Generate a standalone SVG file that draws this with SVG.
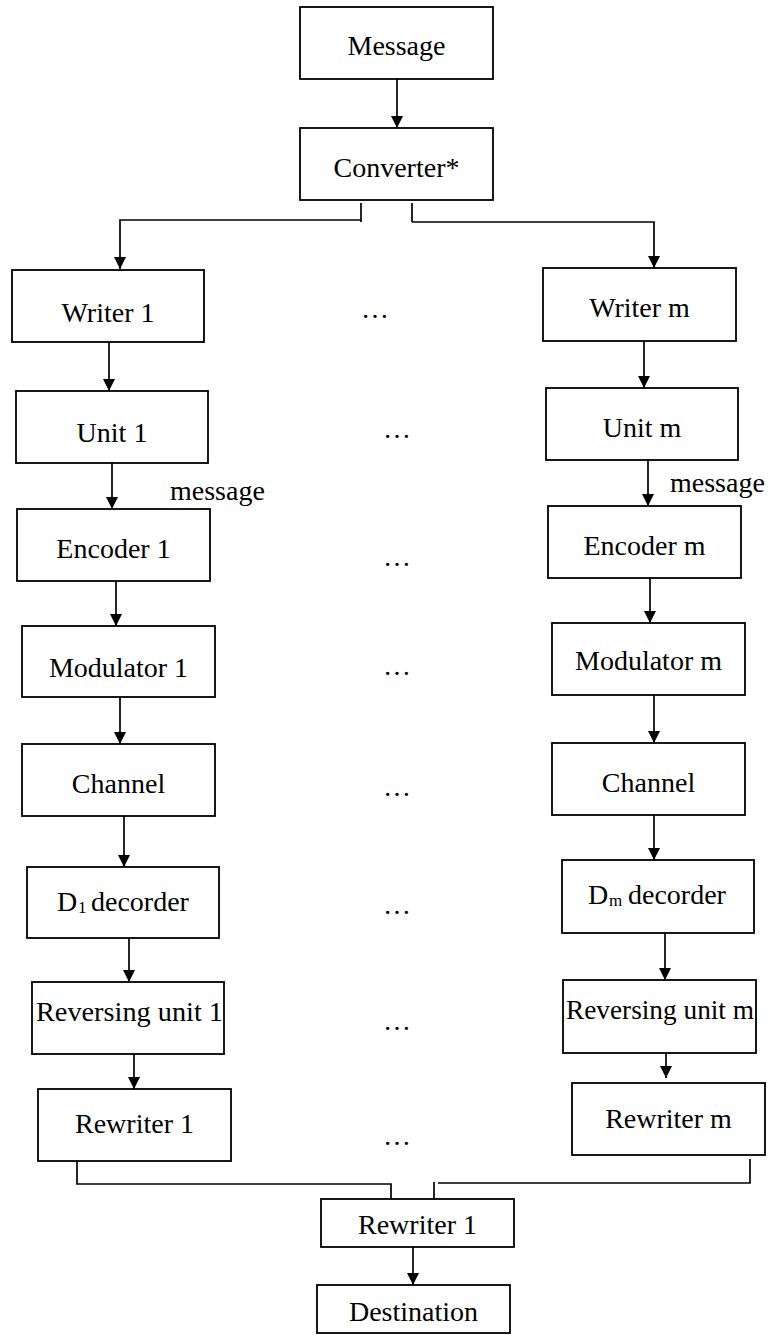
<svg xmlns="http://www.w3.org/2000/svg" width="772" height="1335" viewBox="0 0 772 1335">
<defs>
<style>
.box{fill:#fff;stroke:#000;stroke-width:1.8}
.t{font-family:"Liberation Serif","Times New Roman",serif;font-size:28px;fill:#000}
.c{text-anchor:middle}
.ln{fill:none;stroke:#000;stroke-width:1.7}
.ar{marker-end:url(#ah)}
</style>
<marker id="ah" markerUnits="userSpaceOnUse" markerWidth="12" markerHeight="12" refX="12" refY="6" orient="auto">
<path d="M0,0 L12,6 L0,12 z" fill="#000"/>
</marker>
</defs>
<rect width="772" height="1335" fill="#fff"/>

<g id="connectors">
<line class="ln ar" x1="397" y1="79" x2="397" y2="128"/>
<line class="ln" x1="361" y1="203" x2="361" y2="222"/>
<path class="ln ar" d="M361,220 H120 V269"/>
<line class="ln" x1="412" y1="203" x2="412" y2="222"/>
<path class="ln ar" d="M412,222 H654 V268"/>
<line class="ln ar" x1="109" y1="342" x2="109" y2="391"/>
<line class="ln ar" x1="112" y1="463" x2="112" y2="509"/>
<line class="ln ar" x1="116" y1="581" x2="116" y2="626"/>
<line class="ln ar" x1="120" y1="697" x2="120" y2="744"/>
<line class="ln ar" x1="124" y1="816" x2="124" y2="867"/>
<line class="ln ar" x1="129" y1="935" x2="129" y2="982"/>
<line class="ln ar" x1="134" y1="1054" x2="134" y2="1089"/>
<line class="ln ar" x1="644" y1="341" x2="644" y2="388"/>
<line class="ln ar" x1="648" y1="460" x2="648" y2="506"/>
<line class="ln ar" x1="650" y1="577" x2="650" y2="623"/>
<line class="ln ar" x1="654" y1="695" x2="654" y2="743"/>
<line class="ln ar" x1="654" y1="815" x2="654" y2="860"/>
<line class="ln ar" x1="665" y1="933" x2="665" y2="980"/>
<line class="ln ar" x1="666" y1="1053" x2="666" y2="1078"/>
<path class="ln" d="M77,1159 V1184 H391 V1199"/>
<path class="ln" d="M750,1159 V1183 H438"/>
<line class="ln" x1="434" y1="1182" x2="434" y2="1199"/>
<line class="ln ar" x1="413" y1="1247" x2="413" y2="1285"/>
</g>

<g id="message"><rect class="box" x="300" y="7" width="193" height="72"/><text class="t c" x="396.5" y="55">Message</text></g>
<g id="converter"><rect class="box" x="300" y="128" width="193" height="72"/><text class="t c" x="396.5" y="177">Converter*</text></g>

<g id="writer1"><rect class="box" x="12" y="270" width="192" height="72"/><text class="t c" x="108" y="322">Writer 1</text></g>
<g id="unit1"><rect class="box" x="16" y="391" width="192" height="72"/><text class="t c" x="112" y="442">Unit 1</text></g>
<g id="encoder1"><rect class="box" x="17" y="509" width="193" height="72"/><text class="t c" x="113.5" y="558">Encoder 1</text></g>
<g id="modulator1"><rect class="box" x="22" y="626" width="193" height="71"/><text class="t c" x="118.5" y="677">Modulator 1</text></g>
<g id="channel1"><rect class="box" x="22" y="744" width="193" height="72"/><text class="t c" x="118.5" y="793">Channel</text></g>
<g id="decoder1"><rect class="box" x="27" y="867" width="192" height="71"/><text class="t" y="911"><tspan x="57">D</tspan><tspan x="78" font-size="17" dy="2">1</tspan><tspan x="91" dy="-2">decorder</tspan></text></g>
<g id="reversing1"><rect class="box" x="32" y="982" width="192" height="72"/><text class="t" x="36" y="1021" textLength="187" lengthAdjust="spacingAndGlyphs">Reversing unit 1</text></g>
<g id="rewriter1"><rect class="box" x="38" y="1089" width="193" height="72"/><text class="t c" x="134.5" y="1133">Rewriter 1</text></g>

<g id="writerm"><rect class="box" x="543" y="268" width="193" height="73"/><text class="t c" x="639.5" y="317">Writer m</text></g>
<g id="unitm"><rect class="box" x="546" y="388" width="192" height="72"/><text class="t c" x="642" y="437">Unit m</text></g>
<g id="encoderm"><rect class="box" x="548" y="506" width="193" height="72"/><text class="t c" x="644.5" y="555">Encoder m</text></g>
<g id="modulatorm"><rect class="box" x="552" y="623" width="193" height="72"/><text class="t c" x="648.5" y="670">Modulator m</text></g>
<g id="channelm"><rect class="box" x="552" y="743" width="193" height="72"/><text class="t c" x="648.5" y="792">Channel</text></g>
<g id="decoderm"><rect class="box" x="562" y="860" width="192" height="73"/><text class="t" y="904"><tspan x="588">D</tspan><tspan x="609" font-size="17" dy="2">m</tspan><tspan x="628" dy="-2">decorder</tspan></text></g>
<g id="reversingm"><rect class="box" x="563" y="980" width="193" height="73"/><text class="t" x="566" y="1019" textLength="188" lengthAdjust="spacingAndGlyphs">Reversing unit m</text></g>
<g id="rewriterm"><rect class="box" x="572" y="1083" width="193" height="72"/><text class="t c" x="668.5" y="1128">Rewriter m</text></g>

<g id="rewriter-final"><rect class="box" x="321" y="1199" width="193" height="48"/><text class="t c" x="417.5" y="1234">Rewriter 1</text></g>
<g id="destination"><rect class="box" x="317" y="1285" width="193" height="48"/><text class="t c" x="413.5" y="1321">Destination</text></g>

<g id="labels">
<text class="t" x="170" y="500">message</text>
<text class="t" x="670" y="492">message</text>
<text class="t" x="361" y="318">…</text>
<text class="t" x="383" y="438">…</text>
<text class="t" x="383" y="566">…</text>
<text class="t" x="383" y="675">…</text>
<text class="t" x="383" y="796">…</text>
<text class="t" x="383" y="914">…</text>
<text class="t" x="383" y="1030">…</text>
<text class="t" x="383" y="1145">…</text>
</g>
</svg>
